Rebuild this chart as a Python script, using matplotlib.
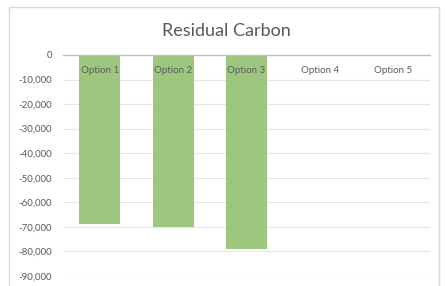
import matplotlib
matplotlib.use("Agg")
import matplotlib.pyplot as plt
from matplotlib.patches import Rectangle
from matplotlib.ticker import FuncFormatter

categories = ["Option 1", "Option 2", "Option 3", "Option 4", "Option 5"]
values = [-69000, -70000, -79000, 0, 0]
yticks = [0, -10000, -20000, -30000, -40000, -50000, -60000, -70000, -80000, -90000]
title = "Residual Carbon"

plt.rcParams['font.family'] = ['Lato', 'DejaVu Sans']

fig = plt.figure(figsize=(4.45, 2.86), dpi=100)
fig.patch.set_facecolor('white')

# chart border
fig.patches.append(Rectangle((9/445, -0.1), (438.5-9)/445, 1.1 - 7/286,
                             transform=fig.transFigure, fill=False,
                             edgecolor='#d9d9d9', linewidth=1.0))

ax = fig.add_axes([63/445, 1-276/286, 367/445, (276-55)/286])
x = list(range(len(categories)))
ax.bar(x, values, width=0.56, color='#9dc67f', zorder=2)
ax.set_xlim(-0.5, len(categories)-0.5)
ax.set_ylim(-90000, 0)
ax.set_yticks(yticks)
ax.yaxis.set_major_formatter(FuncFormatter(lambda v, p: f"{int(v):,}"))
ax.tick_params(axis='y', length=0, labelsize=7, labelcolor='#595959', pad=8)
ax.set_xticks([])
for s in ['left', 'right', 'bottom']:
    ax.spines[s].set_visible(False)
ax.spines['top'].set_color('#bfbfbf')
ax.spines['top'].set_linewidth(1.0)
ax.spines['top'].set_zorder(3)
ax.grid(axis='y', color='#e6e6e6', linewidth=0.8, zorder=0)
ax.set_axisbelow(True)

for xi, c in zip(x, categories):
    ax.annotate(c, (xi, 0), xytext=(0, -11.3), textcoords='offset points',
                ha='center', va='center', fontsize=7, color='#595959', zorder=4)

fig.text(226/445, 1-31/286, title, ha='center', va='center', fontsize=13,
         color='#595959')

fig.savefig('out.png', dpi=100)
